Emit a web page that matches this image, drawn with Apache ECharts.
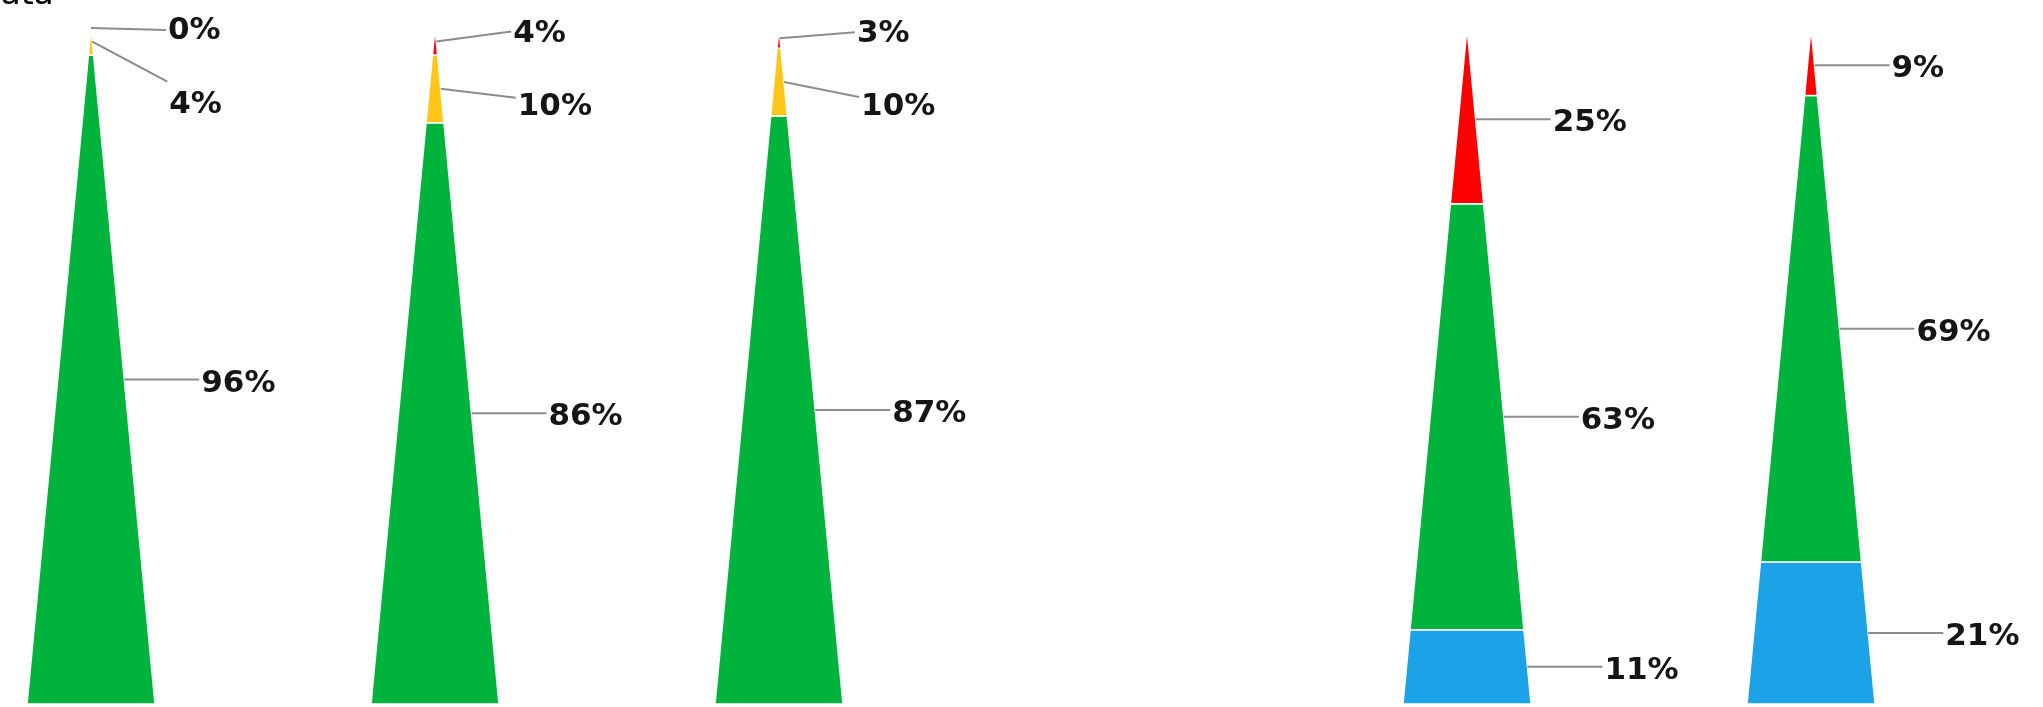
<!DOCTYPE html>
<html>
<head>
<meta charset="utf-8">
<script src="https://cdn.jsdelivr.net/npm/echarts@6/dist/echarts.min.js"></script>
<style>
  html, body { margin: 0; padding: 0; background: #ffffff; }
  #chart { width: 2043px; height: 707px; }
</style>
</head>
<body>
<div id="chart"></div>
<script>
// ---------------- data ----------------
const titleText = 'Data';
const categories = ['1', '2', '3', '4', '5', '6'];
const blueValues   = [null, null, null, null, 11, 21];
const greenValues  = [96, 86, 87, null, 63, 69];
const yellowValues = [4, 10, 10, null, null, null];
const redValues    = [0, 4, 3, null, 25, 9];
const seriesNames  = ['Blue', 'Green', 'Yellow', 'Red'];

// ---------------- styles ----------------
const seriesColors = ['#1CA2E6', '#00B33C', '#FFC61A', '#FF0000'];
const baseHalfWidth = 64;       // px, half width of pyramid base
const leaderLength = 75;        // px, horizontal run of leader line
const labelFont = 'bold 31px "DejaVu Sans", Verdana, sans-serif';
// manual label displacements (text centre dy, leader end ly) for crowded tips
const labelTweaks = {
  '3-0': { dy: 3, ly: 2 },
  '2-0': { dy: 63, ly: 40 },
  '3-1': { dy: -8, ly: -10 },
  '2-1': { dy: 18, ly: 9 },
  '3-2': { dy: -4, ly: -6 },
  '2-2': { dy: 25, ly: 15 }
};

const allValues = [blueValues, greenValues, yellowValues, redValues];

function buildSeriesData(sIdx) {
  const out = [];
  categories.forEach((c, i) => {
    const v = allValues[sIdx][i];
    if (v === null || v === undefined) return;
    let start = 0;
    for (let k = 0; k < sIdx; k++) {
      const pv = allValues[k][i];
      if (pv !== null && pv !== undefined) start += pv;
    }
    out.push([i, start, start + v, v]);
  });
  return out;
}

function renderItem(params, api) {
  const i = api.value(0);
  const s0 = api.value(1);
  const s1 = api.value(2);
  const v = api.value(3);
  const p0 = api.coord([i, s0]);
  const p1 = api.coord([i, s1]);
  const cx = p0[0];
  const hw0 = baseHalfWidth * (1 - s0 / 100);
  const hw1 = baseHalfWidth * (1 - s1 / 100);
  const mid = (s0 + s1) / 2;
  const pm = api.coord([i, mid]);
  const hwm = baseHalfWidth * (1 - mid / 100);
  const ax = cx + hwm, ay = pm[1];
  const tw = labelTweaks[params.seriesIndex + '-' + i] || { dy: 4, ly: 0 };
  const children = [];
  if (s1 > s0) {
    children.push({
      type: 'polygon',
      shape: { points: [[cx - hw0, p0[1]], [cx + hw0, p0[1]], [cx + hw1, p1[1]], [cx - hw1, p1[1]]] },
      style: { fill: api.visual('color'), stroke: '#ffffff', lineWidth: 1.5 }
    });
  }
  children.push({
    type: 'polyline',
    shape: { points: [[ax, ay], [ax + leaderLength, ay + tw.ly]] },
    style: { stroke: '#8c8c8c', lineWidth: 2, fill: null }
  });
  children.push({
    type: 'text',
    style: {
      text: v + '%',
      x: ax + leaderLength + 2,
      y: ay + tw.dy,
      align: 'left',
      verticalAlign: 'middle',
      font: labelFont,
      fill: '#151515'
    }
  });
  return { type: 'group', children: children };
}

const chart = echarts.init(document.getElementById('chart'));
chart.setOption({
  animation: false,
  backgroundColor: '#ffffff',
  title: {
    text: titleText,
    left: -25,
    top: -21,
    padding: 0,
    textStyle: { fontSize: 33, fontWeight: 'normal', color: '#000', fontFamily: 'DejaVu Sans' }
  },
  grid: { left: 91, right: 232, top: 28, bottom: 3 },
  xAxis: {
    type: 'category',
    data: categories,
    boundaryGap: false,
    show: false
  },
  yAxis: {
    type: 'value',
    min: 0,
    max: 100,
    show: false
  },
  series: seriesNames.map((name, s) => ({
    type: 'custom',
    name: name,
    renderItem: renderItem,
    clip: false,
    itemStyle: { color: seriesColors[s] },
    encode: { x: 0, y: [1, 2] },
    data: buildSeriesData(s)
  }))
});
</script>
</body>
</html>
